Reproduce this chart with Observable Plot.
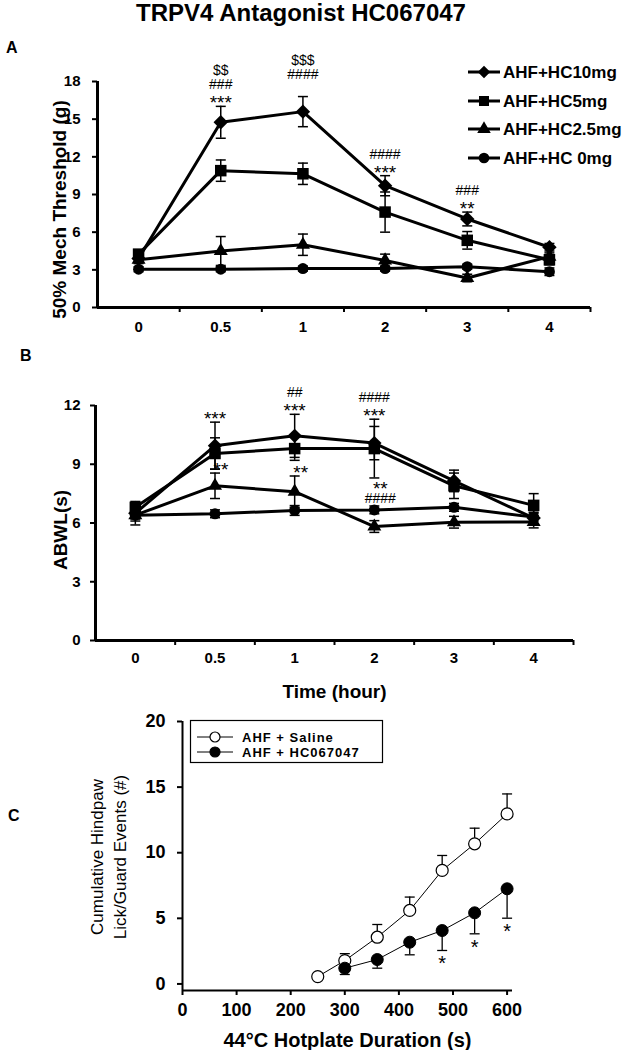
<!DOCTYPE html>
<html><head><meta charset="utf-8">
<script src="https://cdn.jsdelivr.net/npm/d3@7"></script>
<script src="https://cdn.jsdelivr.net/npm/@observablehq/plot@0.6"></script>
<style>
html,body{margin:0;padding:0;background:#fff;}
#page{position:relative;width:626px;height:1050px;overflow:hidden;background:#fff;}
#page > svg{position:absolute;left:0;}
g[aria-label="stars"] text{letter-spacing:1.5px;}
</style></head><body><div id="page"></div>
<script>
const FONT = '"Liberation Sans", Arial, Helvetica, sans-serif';

// ---------------- DATA ----------------
const times = ["0", "0.5", "1", "2", "3", "4"];
const seriesKeys = ["HC10", "HC5", "HC2.5", "HC0"];
const seriesLabels = ["AHF+HC10mg", "AHF+HC5mg", "AHF+HC2.5mg", "AHF+HC 0mg"];
const seriesSymbols = ["diamond2", "square", "triangle", "circle"];

// Panel A: 50% mechanical threshold (g), mean and SEM
const mechHC10 = [3.9, 14.75, 15.6, 9.7, 7.05, 4.8];
const mechHC10Sem = [0.3, 1.27, 1.2, 0.8, 0.55, 0.3];
const mechHC5 = [4.25, 10.9, 10.65, 7.6, 5.35, 3.8];
const mechHC5Sem = [0.3, 0.85, 0.85, 1.6, 0.7, 0.4];
const mechHC25 = [3.8, 4.5, 5.0, 3.75, 2.35, 4.05];
const mechHC25Sem = [0.3, 1.15, 0.85, 0.5, 0.3, 0.3];
const mechHC0 = [3.05, 3.05, 3.1, 3.1, 3.25, 2.85];
const mechHC0Sem = [0.2, 0.2, 0.2, 0.2, 0.2, 0.3];
const mechTicks = [0, 3, 6, 9, 12, 15, 18];
const mechAnnotations = [
  {time: "0.5", anchor: "top", text: "$$\n###\n***"},
  {time: "1", anchor: "top", text: "$$$\n####\n"},
  {time: "2", anchor: "top", text: "####\n***"},
  {time: "3", anchor: "top", text: "###\n**"}
];

// Panel B: ABWL (s), mean and SEM
const abwlHC10 = [6.5, 9.95, 10.45, 10.08, 8.15, 6.25];
const abwlHC10Sem = [0.3, 1.2, 1.1, 0.85, 0.55, 0.3];
const abwlHC5 = [6.8, 9.55, 9.8, 9.8, 7.9, 6.9];
const abwlHC5Sem = [0.3, 0.8, 0.6, 1.5, 0.65, 0.6];
const abwlHC25 = [6.4, 7.9, 7.6, 5.82, 6.04, 6.05];
const abwlHC25Sem = [0.3, 0.65, 0.8, 0.3, 0.3, 0.3];
const abwlHC0 = [6.4, 6.47, 6.64, 6.67, 6.8, 6.3];
const abwlHC0Sem = [0.5, 0.2, 0.25, 0.2, 0.2, 0.2];
const abwlTicks = [0, 3, 6, 9, 12];
const abwlAnnotations = [
  {time: "0.5", anchor: "top", text: "***"},
  {time: "1", anchor: "top", text: "##\n***"},
  {time: "2", anchor: "top", text: "####\n***"},
  {time: "0.5", anchor: "HC2.5", text: "**"},
  {time: "1", anchor: "HC2.5", text: "**"},
  {time: "2", anchor: "HC0", text: "**\n####"}
];

// Panel C: cumulative hindpaw lick/guard events
const hotplateSalineTime = [250, 300, 360, 420, 480, 540, 600];
const hotplateSaline = [0.56, 1.78, 3.56, 5.6, 8.65, 10.68, 12.96];
const hotplateSalineSem = [0, 0.53, 0.97, 1.02, 1.14, 1.19, 1.52];
const hotplateHCTime = [300, 360, 420, 480, 540, 600];
const hotplateHC = [1.2, 1.86, 3.18, 4.07, 5.42, 7.25];
const hotplateHCSem = [0.48, 0.66, 0.96, 1.52, 1.6, 2.24];
const hotplateHCSig = ["", "", "", "*", "*", "*"];
const hotplateYTicks = [0, 5, 10, 15, 20];
const hotplateXTicks = [0, 100, 200, 300, 400, 500, 600];
const hotplateLabels = ["AHF + Saline", "AHF + HC067047"];

// ---------------- DRAWING ----------------
const page = document.getElementById("page");
const capSymbol = {draw(ctx, size) { const w = Math.sqrt(size) / 2; ctx.moveTo(-w, 0); ctx.lineTo(w, 0); }};
const CAP_R = 10 / Math.sqrt(Math.PI);
const symR = {diamond2: 6.5, square: 6.5, triangle: 5.2, circle: 5.5};

function place(svg, top) {
  svg.style.position = "absolute";
  svg.style.top = top + "px";
  svg.style.left = "0px";
  page.appendChild(svg);
}

function timePanel(cfg) {
  const {means, sems, yMax, yTicks, top, height, mt, mb, ml, mr, yTitle, yTitleDx, yTitleDy, xTitle, annotations, yTickPadding, xTickPadding} = cfg;
  const rows = [];
  seriesKeys.forEach((key, s) => means[s].forEach((m, i) => rows.push({key, i, mean: m, sem: sems[s][i]})));
  const annRows = [];
  annotations.forEach(a => {
    const i = times.indexOf(a.time);
    const cand = rows.filter(r => r.i === i && (a.anchor === "top" || r.key === a.anchor));
    const y = d3.max(cand, r => r.mean + r.sem);
    const lines = a.text.split("\n");
    lines.forEach((line, j) => {
      if (!line) return;
      annRows.push({i, y, line, k: lines.length - 1 - j, star: line.includes("*"), beside: a.anchor !== "top"});
    });
  });
  const annMarks = [];
  for (const k of [0, 1, 2]) for (const star of [true, false]) for (const beside of [false, true]) {
    const sub = annRows.filter(r => r.k === k && r.star === star && r.beside === beside);
    if (!sub.length) continue;
    const fs = star ? 19 : 14;
    const glyphMid = star ? 0.575 * fs : 0.35 * fs;
    annMarks.push(Plot.text(sub, {x: "i", y: "y", text: "line", lineAnchor: "bottom", fontSize: fs, fontWeight: "normal",
      ariaLabel: star ? "stars" : "marks", dx: beside ? 6 : 0, dy: -8 - 14 * k + glyphMid}));
  }
  const dotMarks = seriesKeys.map((key, s) => Plot.dot(rows.filter(r => r.key === key), {
    x: "i", y: "mean", symbol: seriesSymbols[s], r: symR[seriesSymbols[s]], fill: "black", stroke: "none"
  })).reverse();
  const svg = Plot.plot({
    width: 626, height,
    marginTop: mt, marginBottom: mb, marginLeft: ml, marginRight: mr,
    x: {domain: [-0.5, times.length - 0.5]},
    y: {domain: [0, yMax]},
    style: {fontFamily: FONT, fontSize: "15px", fontWeight: "bold", background: "transparent", color: "black", overflow: "visible"},
    marks: [
      Plot.ruleX(rows, {x: "i", y1: d => d.mean - d.sem, y2: d => d.mean + d.sem, strokeWidth: 1.5}),
      Plot.dot(rows, {x: "i", y: d => d.mean + d.sem, symbol: capSymbol, r: CAP_R, fill: "none", stroke: "black", strokeWidth: 1.5}),
      Plot.dot(rows, {x: "i", y: d => d.mean - d.sem, symbol: capSymbol, r: CAP_R, fill: "none", stroke: "black", strokeWidth: 1.5}),
      Plot.line(rows, {x: "i", y: "mean", z: "key", stroke: "black", strokeWidth: 3}),
      ...dotMarks,
      ...annMarks,
      Plot.ruleX([-0.5], {y1: 0, y2: yMax, strokeWidth: 3}),
      Plot.ruleY([0], {strokeWidth: 3}),
      Plot.axisY({ticks: yTicks, tickSize: 5, tickPadding: yTickPadding, strokeWidth: 2, label: null}),
      Plot.axisX({ticks: d3.range(0.5, times.length, 1), tickSize: 5, strokeWidth: 2, tickFormat: () => "", label: null}),
      Plot.axisX({ticks: d3.range(0, times.length), tickSize: 0, tickPadding: xTickPadding, tickFormat: i => times[i], label: null}),
      Plot.text([yTitle], {text: d => d, frameAnchor: "left", textAnchor: "middle", rotate: -90, lineAnchor: "bottom", dx: yTitleDx, dy: yTitleDy, fontSize: 19, fontWeight: "bold"}),
      ...(xTitle ? [Plot.text([xTitle], {text: d => d, frameAnchor: "bottom", textAnchor: "middle", lineAnchor: "bottom", dy: 57, fontSize: 19, fontWeight: "bold"})] : [])
    ]
  });
  place(svg, top);
}

// Panel A
timePanel({
  means: [mechHC10, mechHC5, mechHC25, mechHC0],
  sems: [mechHC10Sem, mechHC5Sem, mechHC25Sem, mechHC0Sem],
  yMax: 18, yTicks: mechTicks, top: 40, height: 300,
  mt: 41, mb: 33, ml: 97, mr: 36,
  yTitle: "50% Mech Threshold (g)", yTitleDx: -32, yTitleDy: 15,
  xTitle: null, annotations: mechAnnotations, yTickPadding: 12, xTickPadding: 14
});

// Panel B
timePanel({
  means: [abwlHC10, abwlHC5, abwlHC25, abwlHC0],
  sems: [abwlHC10Sem, abwlHC5Sem, abwlHC25Sem, abwlHC0Sem],
  yMax: 12, yTicks: abwlTicks, top: 370, height: 335,
  mt: 35, mb: 65, ml: 95, mr: 53,
  yTitle: "ABWL(s)", yTitleDx: -29, yTitleDy: 7,
  xTitle: "Time (hour)", annotations: abwlAnnotations, yTickPadding: 10, xTickPadding: 12
});

// Panel C
{
  const sal = hotplateSalineTime.map((t, i) => ({t, mean: hotplateSaline[i], sem: hotplateSalineSem[i]}));
  const hc = hotplateHCTime.map((t, i) => ({t, mean: hotplateHC[i], sem: hotplateHCSem[i], sig: hotplateHCSig[i]}));
  const salE = sal.filter(d => d.sem > 0);
  const svg = Plot.plot({
    width: 626, height: 340,
    marginTop: 11, marginBottom: 60, marginLeft: 182, marginRight: 114,
    x: {domain: [0, 610]},
    y: {domain: [-0.5, 20]},
    style: {fontFamily: FONT, fontSize: "18px", fontWeight: "bold", background: "transparent", color: "black", overflow: "visible"},
    marks: [
      Plot.ruleX(salE, {x: "t", y1: "mean", y2: d => d.mean + d.sem, strokeWidth: 1.3}),
      Plot.dot(salE, {x: "t", y: d => d.mean + d.sem, symbol: capSymbol, r: CAP_R, fill: "none", stroke: "black", strokeWidth: 1.3}),
      Plot.ruleX(hc, {x: "t", y1: d => d.mean - d.sem, y2: "mean", strokeWidth: 1.3}),
      Plot.dot(hc, {x: "t", y: d => d.mean - d.sem, symbol: capSymbol, r: CAP_R, fill: "none", stroke: "black", strokeWidth: 1.3}),
      Plot.line(sal, {x: "t", y: "mean", stroke: "black", strokeWidth: 1}),
      Plot.line(hc, {x: "t", y: "mean", stroke: "black", strokeWidth: 1}),
      Plot.dot(sal, {x: "t", y: "mean", r: 6, fill: "white", stroke: "black", strokeWidth: 1.2}),
      Plot.dot(hc, {x: "t", y: "mean", r: 6, fill: "black", stroke: "black", strokeWidth: 1}),
      Plot.text(hc.filter(d => d.sig), {x: "t", y: d => d.mean - d.sem, text: "sig", lineAnchor: "bottom", dy: 20, fontSize: 20, fontWeight: "normal"}),
      Plot.ruleX([0], {y1: -0.5, y2: 20, strokeWidth: 2}),
      Plot.ruleY([-0.5], {strokeWidth: 2}),
      Plot.axisY({ticks: hotplateYTicks, tickSize: 5, tickPadding: 12, strokeWidth: 2, label: null}),
      Plot.axisX({ticks: hotplateXTicks, tickSize: 5, tickPadding: 8, strokeWidth: 2, label: null}),
      Plot.text(["Cumulative Hindpaw\nLick/Guard Events (#)"], {text: d => d, frameAnchor: "left", textAnchor: "middle", rotate: -90, lineAnchor: "bottom", lineHeight: 1.35, dx: -57, dy: 1, fontSize: 17, fontWeight: "normal"}),
      Plot.text(["44°C Hotplate Duration (s)"], {text: d => d, frameAnchor: "bottom", textAnchor: "middle", lineAnchor: "bottom", dy: 56, fontSize: 20, fontWeight: "bold"})
    ]
  });
  place(svg, 710);
}

// Overlay: title, panel letters, legends
{
  const ov = d3.create("svg").attr("width", 626).attr("height", 1050)
    .style("position", "absolute").style("left", "0px").style("top", "0px")
    .style("font-family", FONT).style("pointer-events", "none");
  ov.append("text").attr("x", 301).attr("y", 21).attr("text-anchor", "middle")
    .attr("font-size", 24).attr("font-weight", "bold").text("TRPV4 Antagonist HC067047");
  [["A", 6, 53], ["B", 20, 361], ["C", 8, 821]].forEach(([t, x, y]) =>
    ov.append("text").attr("x", x).attr("y", y).attr("font-size", 16).attr("font-weight", "bold").text(t));

  // Legend A/B
  const symType = {diamond2: d3.symbolDiamond2, square: d3.symbolSquare, triangle: d3.symbolTriangle, circle: d3.symbolCircle};
  const symSize = {diamond2: 100, square: 100, triangle: 80, circle: 90};
  const rowsY = [72, 101, 129, 158];
  seriesLabels.forEach((lab, s) => {
    const y = rowsY[s];
    ov.append("line").attr("x1", 468).attr("x2", 500).attr("y1", y).attr("y2", y).attr("stroke", "black").attr("stroke-width", 3);
    ov.append("path").attr("transform", `translate(484,${y})`)
      .attr("d", d3.symbol(symType[seriesSymbols[s]], symSize[seriesSymbols[s]])()).attr("fill", "black");
    ov.append("text").attr("x", 503).attr("y", y + 6).attr("font-size", 17).attr("font-weight", "bold").text(lab);
  });

  // Legend C
  ov.append("rect").attr("x", 190.5).attr("y", 720.5).attr("width", 192).attr("height", 42)
    .attr("fill", "white").attr("stroke", "black").attr("stroke-width", 1.2);
  const cRows = [737, 752];
  hotplateLabels.forEach((lab, j) => {
    const y = cRows[j];
    ov.append("line").attr("x1", 197).attr("x2", 233).attr("y1", y).attr("y2", y).attr("stroke", "black").attr("stroke-width", 1);
    ov.append("circle").attr("cx", 215).attr("cy", y).attr("r", 5)
      .attr("fill", j === 0 ? "white" : "black").attr("stroke", "black").attr("stroke-width", 1.2);
    ov.append("text").attr("x", 242).attr("y", y + 4.7).attr("font-size", 13).attr("font-weight", "bold")
      .attr("letter-spacing", 1).text(lab);
  });
  page.appendChild(ov.node());
}
</script>
</body></html>
